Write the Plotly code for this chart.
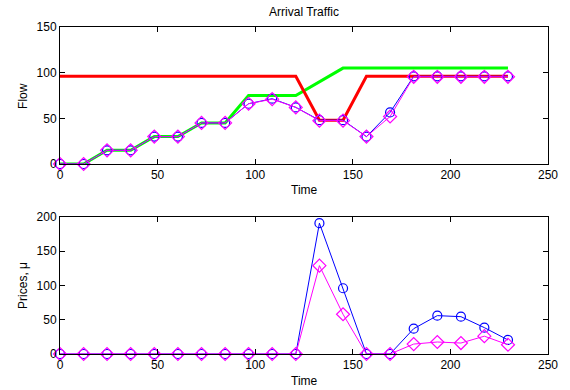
import plotly.graph_objects as go

time = [0, 12.1, 24.1, 36.2, 48.3, 60.4, 72.5, 84.6, 96.6, 108.7, 120.8, 132.9,
        145.0, 157.0, 169.1, 181.2, 193.3, 205.4, 217.4, 229.5]

# top panel: Arrival Traffic
red_t = [0, 120.8, 132.9, 145.0, 157.0, 229.5]
red_flow = [96, 96, 48, 48, 96, 96]
green_t = [0, 12.1, 24.1, 36.2, 48.3, 60.4, 72.5, 84.6, 96.6, 120.8, 145.0, 229.5]
green_flow = [0, 0, 15, 15, 30, 30, 45, 45, 75, 75, 105, 105]
blue_flow = [0, 0, 15, 15, 30, 30, 45, 45, 66, 71.5, 62, 48, 48, 30, 56.5, 96, 96, 96, 96, 96]
mag_flow = [0, 0, 15, 15, 30, 30, 45, 45, 66, 71, 62, 47.5, 47.5, 30, 52, 95.5, 95.5, 95.5, 95.5, 95.5]

# bottom panel: Prices
blue_price = [0, 0, 0, 0, 0, 0, 0, 0, 0, 0, 0, 191, 96, 0, 0, 37, 56, 54.5, 38.5, 20.5]
mag_price = [0, 0, 0, 0, 0, 0, 0, 0, 0, 0, 0, 129, 58, 0, 0, 14.5, 17.5, 16, 26, 13.5]

xticks = [0, 50, 100, 150, 200, 250]
FONT = "Liberation Sans, Arial, sans-serif"

fig = go.Figure()
fig.add_trace(go.Scatter(x=green_t, y=green_flow, mode="lines",
                         line=dict(color="#00ff00", width=3), xaxis="x", yaxis="y"))
fig.add_trace(go.Scatter(x=red_t, y=red_flow, mode="lines",
                         line=dict(color="#ff0000", width=3), xaxis="x", yaxis="y"))
for xa, ya, yb, ym in [("x", "y", blue_flow, mag_flow), ("x2", "y2", blue_price, mag_price)]:
    fig.add_trace(go.Scatter(x=time, y=yb, mode="lines+markers", cliponaxis=False,
                             line=dict(color="#0000ff", width=1),
                             marker=dict(symbol="circle-open", size=9, color="#0000ff", line=dict(width=1.2)),
                             xaxis=xa, yaxis=ya))
    fig.add_trace(go.Scatter(x=time, y=ym, mode="lines+markers", cliponaxis=False,
                             line=dict(color="#ff00ff", width=1),
                             marker=dict(symbol="diamond-open", size=10, color="#ff00ff", line=dict(width=1.2)),
                             xaxis=xa, yaxis=ya))

axis_common = dict(showline=True, linecolor="black", linewidth=1, mirror="ticks",
                   ticks="inside", ticklen=5, tickcolor="black", tickwidth=1,
                   showgrid=False, zeroline=False,
                   tickfont=dict(family=FONT, size=12, color="black"))

fig.update_layout(
    width=570, height=390,
    margin=dict(l=60, r=17, t=27, b=36),
    paper_bgcolor="white", plot_bgcolor="white",
    showlegend=False,
    font=dict(family=FONT, size=12, color="black"),
    xaxis=dict(domain=[0, 1], range=[0, 250], tickvals=xticks, anchor="y", **axis_common),
    yaxis=dict(domain=[0.581, 1], range=[0, 150], tickvals=[0, 50, 100, 150], anchor="x", **axis_common),
    xaxis2=dict(domain=[0, 1], range=[0, 250], tickvals=xticks, anchor="y2", **axis_common),
    yaxis2=dict(domain=[0, 0.419], range=[0, 200], tickvals=[0, 50, 100, 150, 200], anchor="x2", **axis_common),
    title=dict(text="Arrival Traffic", x=0.5, xref="paper", y=1 - 12 / 390, yref="container",
               xanchor="center", yanchor="middle",
               font=dict(family=FONT, size=12, color="black")),
    annotations=[
        dict(text="Time", xref="paper", yref="paper", x=0.5, y=(354 - 190) / 327,
             showarrow=False, xanchor="center", yanchor="middle"),
        dict(text="Time", xref="paper", yref="paper", x=0.5, y=(354 - 381) / 327,
             showarrow=False, xanchor="center", yanchor="middle"),
        dict(text="Flow", xref="paper", yref="paper", x=(22 - 60) / 493, y=(354 - 95.5) / 327,
             showarrow=False, xanchor="center", yanchor="middle", textangle=-90),
        dict(text="Prices, μ", xref="paper", yref="paper", x=(22 - 60) / 493, y=(354 - 285.5) / 327,
             showarrow=False, xanchor="center", yanchor="middle", textangle=-90),
    ],
)

fig.write_html("out.html")
